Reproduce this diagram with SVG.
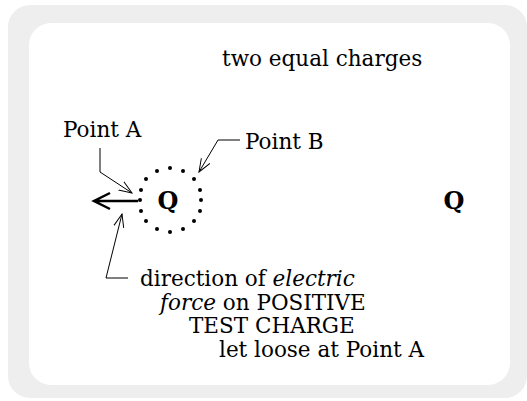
<svg xmlns="http://www.w3.org/2000/svg" width="527" height="401" viewBox="0 0 527 401">
<style>
text{font-family:"DejaVu Serif","Liberation Serif",serif;font-size:21.5px;fill:#000}
.b{font-weight:bold;font-size:24px}
.lead{fill:none;stroke:#000;stroke-width:1}
.dot{fill:#000}
</style>
<defs>
<marker id="oa" markerWidth="14" markerHeight="12" refX="13" refY="6" orient="auto" markerUnits="userSpaceOnUse">
<path d="M0,1 L13,6 L0,11" fill="none" stroke="#000" stroke-width="1"/>
</marker>
</defs>
<rect x="8" y="5" width="519" height="393" rx="22" fill="#eeeeee"/>
<rect x="29" y="23" width="481" height="362" rx="22" fill="#ffffff"/>
<text x="222" y="66">two equal charges</text>
<g id="pointA"><text x="63" y="137">Point A</text></g>
<g id="pointB"><text x="245" y="149">Point B</text></g>
<g id="charge1"><text class="b" x="168" y="209" text-anchor="middle">Q</text>
<g id="circle" class="dot">
<circle cx="170" cy="168" r="2"/><circle cx="183" cy="171" r="2"/><circle cx="194" cy="179" r="2"/><circle cx="200" cy="190" r="2"/>
<circle cx="201" cy="200" r="2"/><circle cx="200" cy="211" r="2"/><circle cx="194" cy="221" r="2"/><circle cx="183" cy="229" r="2"/>
<circle cx="170" cy="232" r="2"/><circle cx="157" cy="229" r="2"/><circle cx="146" cy="221" r="2"/><circle cx="141" cy="211" r="2"/>
<circle cx="140" cy="200" r="2"/><circle cx="141" cy="190" r="2"/><circle cx="146" cy="179" r="2"/><circle cx="157" cy="171" r="2"/>
</g></g>
<g id="charge2"><text class="b" x="454" y="209" text-anchor="middle">Q</text></g>
<g id="label"><text x="140" y="286">direction of <tspan font-style="italic">electric</tspan></text>
<text x="160" y="310"><tspan font-style="italic">force</tspan> on POSITIVE</text>
<text x="189" y="333">TEST CHARGE</text>
<text x="219" y="357">let loose at Point A</text></g>
<g id="connectors">
<path d="M138,201 H94 M110,193 L94,201 L110,209" fill="none" stroke="#000" stroke-width="2.5"/>
<path class="lead" d="M100,148 V172 L132,193" marker-end="url(#oa)"/>
<path class="lead" d="M240,140 H218 L199,172" marker-end="url(#oa)"/>
<path class="lead" d="M128,278 H106 L122,214" marker-end="url(#oa)"/>
</g>
</svg>
